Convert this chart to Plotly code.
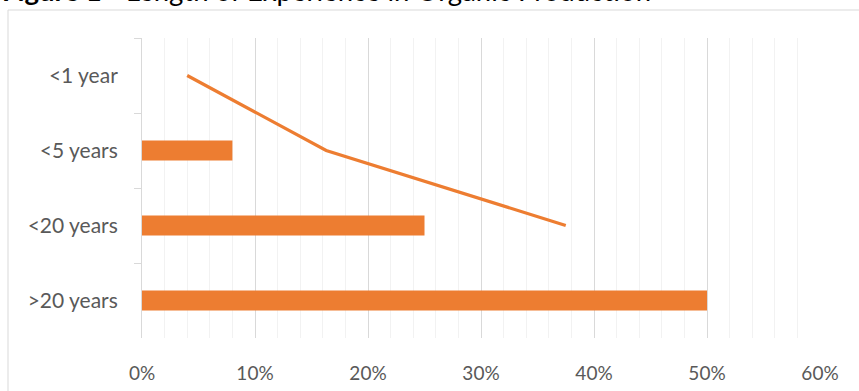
import plotly.graph_objects as go

# Survey categories (top to bottom) and shares
categories = ["<1 year", "<5 years", "<20 years", ">20 years"]
bar_values = [0.0, 0.08, 0.25, 0.50]

# Second series drawn as a line over the first three categories
line_categories = ["<1 year", "<5 years", "<20 years"]
line_values = [0.04, 0.163, 0.375]

x_ticks = [0, 0.1, 0.2, 0.3, 0.4, 0.5, 0.6]
x_ticklabels = ["0%", "10%", "20%", "30%", "40%", "50%", "60%"]

ORANGE = "#ED7D31"
GRID_MAJOR = "#D9D9D9"
GRID_MINOR = "#F2F2F2"
TEXT = "#595959"
FONT = "Lato, 'Open Sans', sans-serif"

W, H = 859, 391
L, R, T, B = 142, 39, 38, 53
pw, ph = W - L - R, H - T - B

fig = go.Figure()

fig.add_trace(go.Bar(
    x=bar_values, y=categories, orientation="h",
    marker=dict(color=ORANGE, line=dict(width=0)),
    showlegend=False, hoverinfo="x+y",
))

fig.add_trace(go.Scatter(
    x=line_values, y=line_categories, mode="lines",
    line=dict(color=ORANGE, width=3.2),
    showlegend=False,
))

# Chart-area frame (extends past the right and bottom page edges)
fig.add_shape(
    type="rect", xref="paper", yref="paper",
    x0=(8 - L) / pw, x1=1.2, y0=-0.4, y1=1 + (T - 10) / ph,
    line=dict(color=GRID_MAJOR, width=1), fillcolor="rgba(0,0,0,0)",
    layer="below",
)

# Figure caption sitting above the frame
fig.add_annotation(
    xref="paper", yref="paper",
    x=(0 - L) / pw, y=1 + (T - 9.5) / ph,
    xanchor="left", yanchor="bottom",
    text="<b>Figure 1</b> - Length of Experience in Organic Production",
    showarrow=False,
    font=dict(family=FONT, size=27.5, color="#000000"),
)

fig.update_layout(
    width=W, height=H,
    margin=dict(l=L, r=R, t=T, b=B, pad=0, autoexpand=False),
    paper_bgcolor="white", plot_bgcolor="white",
    bargap=0.733,
    font=dict(family=FONT, size=19, color=TEXT),
    xaxis=dict(
        range=[0, 0.6],
        tickvals=x_ticks, ticktext=x_ticklabels,
        showgrid=True, gridcolor=GRID_MAJOR, gridwidth=1,
        minor=dict(dtick=0.02, showgrid=True, gridcolor=GRID_MINOR, gridwidth=1),
        zeroline=False, showline=False,
        ticks="outside", ticklen=18, tickcolor="rgba(0,0,0,0)",
        tickfont=dict(family=FONT, size=19, color=TEXT),
        automargin=False,
        fixedrange=True,
    ),
    yaxis=dict(
        type="category",
        categoryorder="array", categoryarray=categories,
        autorange="reversed",
        showgrid=False, zeroline=False,
        showline=True, linecolor=GRID_MAJOR, linewidth=1,
        ticks="outside", ticklen=7, tickcolor=GRID_MAJOR, tickwidth=1,
        tickson="boundaries",
        ticklabelstandoff=19,
        tickfont=dict(family=FONT, size=21, color=TEXT),
        automargin=False,
        fixedrange=True,
    ),
)

fig.write_html("out.html")
